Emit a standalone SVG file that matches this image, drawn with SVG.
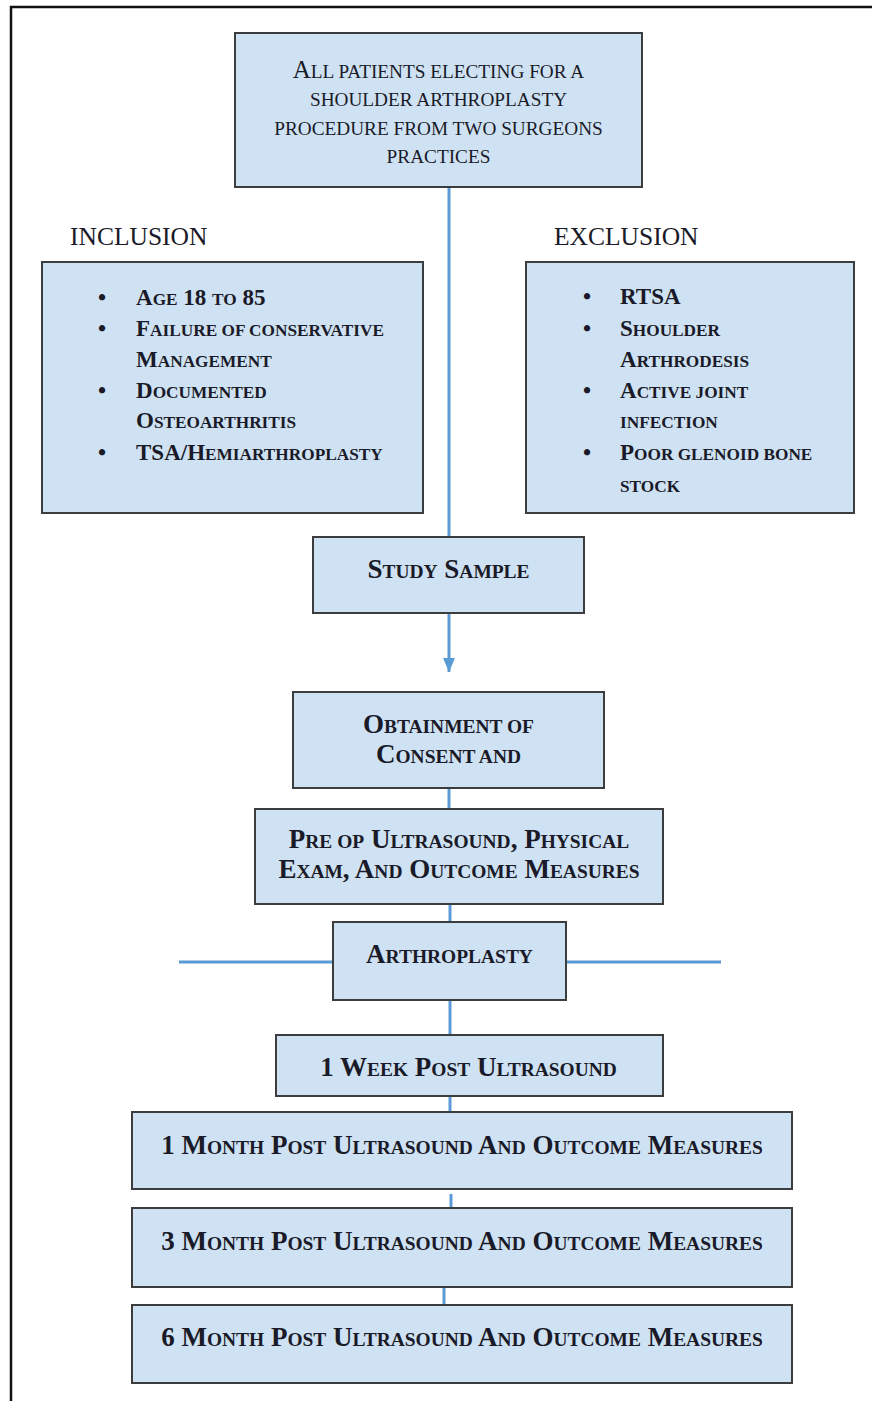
<svg xmlns="http://www.w3.org/2000/svg" width="872" height="1401" viewBox="0 0 872 1401">
<style>
.box{fill:#cfe2f3;stroke:#3d3d3d;stroke-width:2}
.t{font-family:"Liberation Serif",serif;fill:#1a1a28;text-anchor:middle}
.b{font-weight:bold;font-size:27px}
.tp{font-size:25px}
.h{font-family:"Liberation Serif",serif;fill:#1a1a28;font-size:25.5px}
.li{font-family:"Liberation Serif",serif;fill:#1a1a28;font-weight:bold;font-size:23px}
.s{font-size:0.72em}
.s2{font-size:0.77em}
.s3{font-size:0.75em}
.bul{text-anchor:middle}
.c{stroke:#5a9bd5;stroke-width:3;fill:none}
.frame{stroke:#111;stroke-width:2.5;fill:none}
</style>
<defs>
<marker id="arr" markerUnits="userSpaceOnUse" markerWidth="14" markerHeight="12" refX="14" refY="6" orient="auto" viewBox="0 0 14 12">
<path d="M0,0 L14,6 L0,12 Z" fill="#5a9bd5"/>
</marker>
</defs>
<path class="frame" d="M11,1401 V7 H872"/>
<g id="connectors">
<line class="c" x1="449" y1="187" x2="449" y2="537"/>
<line class="c" x1="449" y1="613" x2="449" y2="672" marker-end="url(#arr)"/>
<line class="c" x1="449" y1="788" x2="449" y2="809"/>
<line class="c" x1="450" y1="904" x2="450" y2="922"/>
<line class="c" x1="450" y1="1000" x2="450" y2="1035"/>
<line class="c" x1="179" y1="962" x2="333" y2="962"/>
<line class="c" x1="566" y1="962" x2="721" y2="962"/>
<line class="c" x1="450" y1="1096" x2="450" y2="1112"/>
<line class="c" x1="451" y1="1194" x2="451" y2="1210"/>
<line class="c" x1="444" y1="1287" x2="444" y2="1305"/>
</g>
<g id="top">
<rect class="box" x="235" y="33" width="407" height="154"/>
<text class="t tp" x="438.5" y="77.5">A<tspan class="s2">LL PATIENTS ELECTING FOR A</tspan></text>
<text class="t tp" x="438.5" y="106"><tspan class="s2">SHOULDER ARTHROPLASTY</tspan></text>
<text class="t tp" x="438.5" y="134.5"><tspan class="s2">PROCEDURE FROM TWO SURGEONS</tspan></text>
<text class="t tp" x="438.5" y="163"><tspan class="s2">PRACTICES</tspan></text>
</g>
<g id="inclusion-label"><text class="h" x="70" y="245">INCLUSION</text></g>
<g id="exclusion-label"><text class="h" x="554" y="245">EXCLUSION</text></g>
<g id="inclusion">
<rect class="box" x="42" y="262" width="381" height="251"/>
<text class="li bul" x="102" y="305">•</text>
<text class="li bul" x="102" y="336">•</text>
<text class="li bul" x="102" y="398">•</text>
<text class="li bul" x="102" y="460">•</text>
<text class="li" x="136" y="305">A<tspan class="s3">GE</tspan> 18 <tspan class="s3">TO</tspan> 85</text>
<text class="li" x="136" y="336">F<tspan class="s3">AILURE OF CONSERVATIVE</tspan></text>
<text class="li" x="136" y="367">M<tspan class="s3">ANAGEMENT</tspan></text>
<text class="li" x="136" y="398">D<tspan class="s3">OCUMENTED</tspan></text>
<text class="li" x="136" y="428">O<tspan class="s3">STEOARTHRITIS</tspan></text>
<text class="li" x="136" y="460">TSA/H<tspan class="s3">EMIARTHROPLASTY</tspan></text>
</g>
<g id="exclusion">
<rect class="box" x="526" y="262" width="328" height="251"/>
<text class="li bul" x="587" y="304">•</text>
<text class="li bul" x="587" y="336">•</text>
<text class="li bul" x="587" y="398">•</text>
<text class="li bul" x="587" y="460">•</text>
<text class="li" x="620" y="304">RTSA</text>
<text class="li" x="620" y="336">S<tspan class="s3">HOULDER</tspan></text>
<text class="li" x="620" y="367">A<tspan class="s3">RTHRODESIS</tspan></text>
<text class="li" x="620" y="398">A<tspan class="s3">CTIVE JOINT</tspan></text>
<text class="li" x="620" y="428"><tspan class="s3">INFECTION</tspan></text>
<text class="li" x="620" y="460">P<tspan class="s3">OOR GLENOID BONE</tspan></text>
<text class="li" x="620" y="492"><tspan class="s3">STOCK</tspan></text>
</g>
<g id="study">
<rect class="box" x="313" y="537" width="271" height="76"/>
<text class="t b" x="448.5" y="578">S<tspan class="s">TUDY</tspan> S<tspan class="s">AMPLE</tspan></text>
</g>
<g id="consent">
<rect class="box" x="293" y="692" width="311" height="96"/>
<text class="t b" x="448.5" y="733">O<tspan class="s">BTAINMENT OF</tspan></text>
<text class="t b" x="448.5" y="763">C<tspan class="s">ONSENT AND</tspan></text>
</g>
<g id="preop">
<rect class="box" x="255" y="809" width="408" height="95"/>
<text class="t b" x="459" y="848">P<tspan class="s">RE OP</tspan> U<tspan class="s">LTRASOUND</tspan>, P<tspan class="s">HYSICAL</tspan></text>
<text class="t b" x="459" y="878">E<tspan class="s">XAM</tspan>, A<tspan class="s">ND</tspan> O<tspan class="s">UTCOME</tspan> M<tspan class="s">EASURES</tspan></text>
</g>
<g id="arthroplasty">
<rect class="box" x="333" y="922" width="233" height="78"/>
<text class="t b" x="449.5" y="963">A<tspan class="s">RTHROPLASTY</tspan></text>
</g>
<g id="week1">
<rect class="box" x="276" y="1035" width="387" height="61"/>
<text class="t b" x="468.5" y="1076">1 W<tspan class="s">EEK</tspan> P<tspan class="s">OST</tspan> U<tspan class="s">LTRASOUND</tspan></text>
</g>
<g id="month1">
<rect class="box" x="132" y="1112" width="660" height="77"/>
<text class="t b" x="462" y="1154">1 M<tspan class="s">ONTH</tspan> P<tspan class="s">OST</tspan> U<tspan class="s">LTRASOUND</tspan> A<tspan class="s">ND</tspan> O<tspan class="s">UTCOME</tspan> M<tspan class="s">EASURES</tspan></text>
</g>
<g id="month3">
<rect class="box" x="132" y="1208" width="660" height="79"/>
<text class="t b" x="462" y="1250">3 M<tspan class="s">ONTH</tspan> P<tspan class="s">OST</tspan> U<tspan class="s">LTRASOUND</tspan> A<tspan class="s">ND</tspan> O<tspan class="s">UTCOME</tspan> M<tspan class="s">EASURES</tspan></text>
</g>
<g id="month6">
<rect class="box" x="132" y="1305" width="660" height="78"/>
<text class="t b" x="462" y="1346">6 M<tspan class="s">ONTH</tspan> P<tspan class="s">OST</tspan> U<tspan class="s">LTRASOUND</tspan> A<tspan class="s">ND</tspan> O<tspan class="s">UTCOME</tspan> M<tspan class="s">EASURES</tspan></text>
</g>
</svg>
